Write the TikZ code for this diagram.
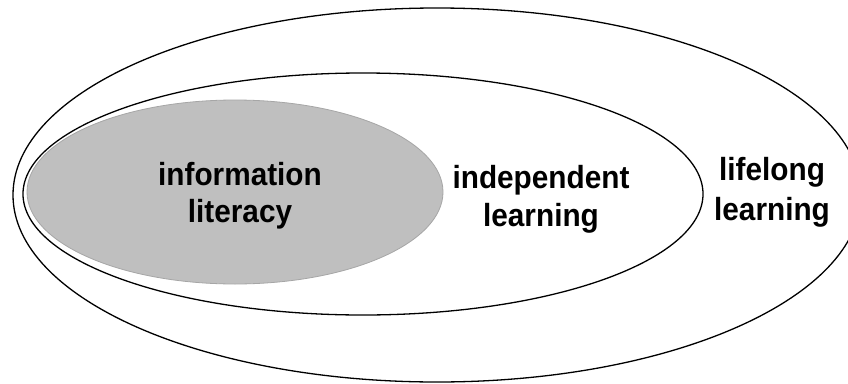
\documentclass[tikz,border=0pt]{standalone}
\usepackage{fontspec}
\setmainfont{Liberation Sans}
\usetikzlibrary{shapes.geometric}
\tikzset{
  ring/.style={ellipse, draw=black, line width=1.3pt, inner sep=0pt},
  lbl/.style={font=\fontsize{32}{38}\selectfont\bfseries, align=center, text=black, inner sep=0pt, xscale=0.93}
}
\begin{document}
\begin{tikzpicture}[x=1pt,y=-1pt]
\useasboundingbox (0,0) rectangle (848,383);
\fill[white] (0,0) rectangle (848,383);
\begin{scope}
\clip (0,0) rectangle (848,383);
\node[ring, minimum width=848pt, minimum height=374pt] (outer) at (437,195) {};
\node[ring, minimum width=680pt, minimum height=242pt] (middle) at (363,194) {};
\node[ellipse, fill=black!25, draw=black!35, line width=0.8pt, inner sep=0pt, minimum width=416pt, minimum height=184pt] (inner) at (235,192) {};
\end{scope}
\node[lbl, font=\fontsize{32}{37}\selectfont\bfseries] (il) at (240,195.5) {information\\literacy};
\node[lbl] (ind) at (541,199) {independent\\learning};
\node[lbl, font=\fontsize{32}{40}\selectfont\bfseries] (lll) at (772,192) {lifelong\\learning};
\end{tikzpicture}
\end{document}
